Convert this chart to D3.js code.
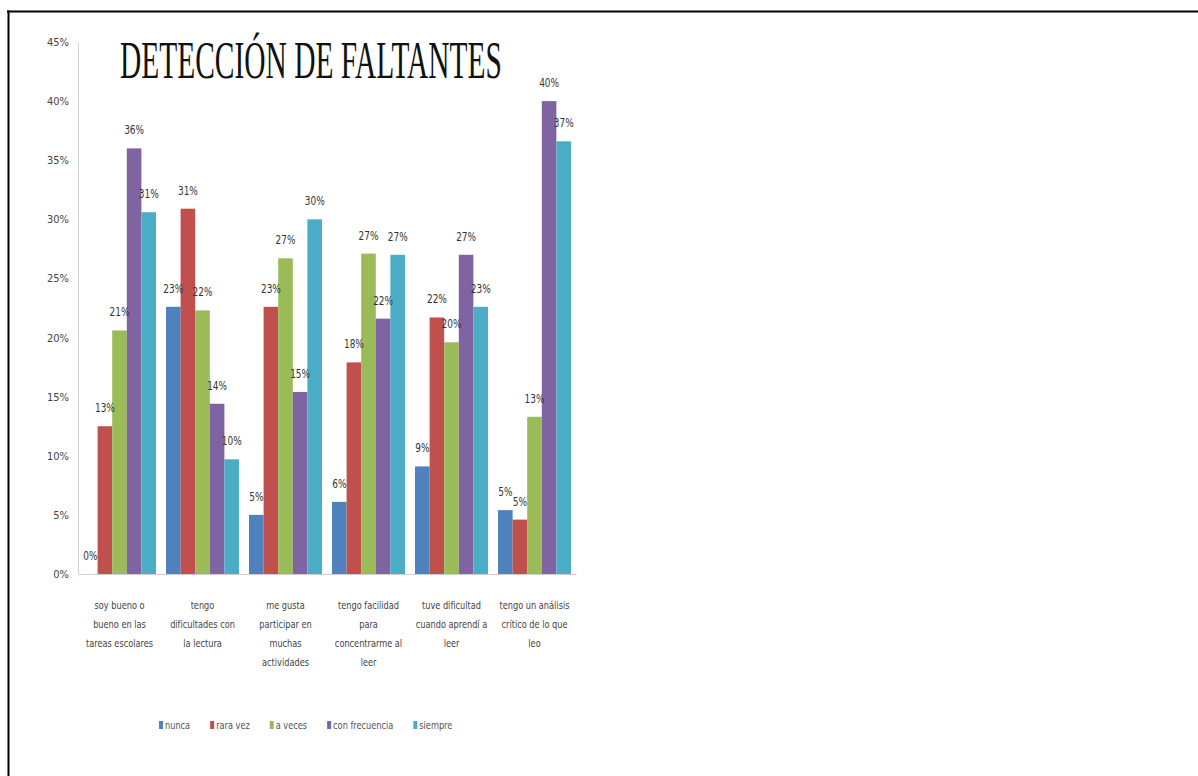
<!DOCTYPE html>
<html lang="es">
<head>
    <meta charset="UTF-8">
    <title>Detección de faltantes</title>
    <style>
        body { margin: 0; background: #fff; }
        svg { display: block; }
        .narrow { font-family: "Liberation Sans Narrow", "DejaVu Sans Condensed", "Liberation Sans", sans-serif; }
    </style>
</head>
<body>
    <div id="chart"></div>

    <script src="https://d3js.org/d3.v7.min.js"></script>
    <script>
        // category labels, already split in lines like the original
        const categories = [
            ["soy bueno o", "bueno en las", "tareas escolares"],
            ["tengo", "dificultades con", "la lectura"],
            ["me gusta", "participar en", "muchas", "actividades"],
            ["tengo facilidad", "para", "concentrarme al", "leer"],
            ["tuve dificultad", "cuando aprendí a", "leer"],
            ["tengo un análisis", "crítico de lo que", "leo"]
        ];

        const seriesNames = ["nunca", "rara vez", "a veces", "con frecuencia", "siempre"];

        // values in percent
        const nunca         = [0,    22.6, 5.0,  6.1,  9.1,  5.4];
        const raraVez       = [12.5, 30.9, 22.6, 17.9, 21.7, 4.6];
        const aVeces        = [20.6, 22.3, 26.7, 27.1, 19.6, 13.3];
        const conFrecuencia = [36.0, 14.4, 15.4, 21.6, 27.0, 40.0];
        const siempre       = [30.6, 9.7,  30.0, 27.0, 22.6, 36.6];

        const yTicks = [0, 5, 10, 15, 20, 25, 30, 35, 40, 45];

        const colors = ["#4F81BD", "#C0504D", "#9BBB59", "#8064A2", "#4BACC6"];

        const series = [nunca, raraVez, aVeces, conFrecuencia, siempre];

        const w = 1198;
        const h = 776;
        const plotLeft = 78, plotRight = 576, plotTop = 42, plotBottom = 574;
        const squeeze = 0.83; // the original text is a condensed font

        const svg = d3.select('#chart')
            .append('svg')
            .attr('width', w)
            .attr('height', h);

        // page frame (top and left border of the document table)
        svg.append('line')
            .attr('x1', 7).attr('x2', w)
            .attr('y1', 11.5).attr('y2', 11.5)
            .attr('stroke', '#000').attr('stroke-width', 2);
        svg.append('line')
            .attr('x1', 8.5).attr('x2', 8.5)
            .attr('y1', 10.5).attr('y2', h)
            .attr('stroke', '#000').attr('stroke-width', 2);

        const x0 = d3.scaleBand()
            .domain(d3.range(categories.length))
            .range([plotLeft, plotRight]);

        const x1 = d3.scaleBand()
            .domain(d3.range(seriesNames.length))
            .range([5, x0.bandwidth() - 5]);

        const y = d3.scaleLinear()
            .domain([0, 45])
            .range([plotBottom, plotTop]);

        // y axis
        const yAxis = d3.axisLeft(y)
            .tickValues(yTicks)
            .tickSize(0)
            .tickPadding(9)
            .tickFormat(d => d + '%');

        const gy = svg.append('g')
            .attr('transform', `translate(${plotLeft},0)`)
            .call(yAxis);
        gy.select('.domain').attr('stroke', '#d0d0d0');
        gy.selectAll('text')
            .attr('class', 'narrow')
            .style('font-size', '11px')
            .attr('fill', '#444');

        // bars
        const groups = svg.selectAll('g.group')
            .data(categories)
            .enter()
            .append('g')
            .attr('class', 'group')
            .attr('transform', (d, i) => `translate(${x0(i)},0)`);

        groups.selectAll('rect')
            .data((d, i) => series.map((s, k) => ({ k: k, v: s[i] })))
            .enter()
            .append('rect')
            .attr('x', d => x1(d.k))
            .attr('width', x1.bandwidth())
            .attr('y', d => y(d.v))
            .attr('height', d => plotBottom - y(d.v))
            .attr('fill', d => colors[d.k]);

        groups.selectAll('text.val')
            .data((d, i) => series.map((s, k) => ({ k: k, v: s[i] })))
            .enter()
            .append('text')
            .attr('class', 'val narrow')
            .attr('transform', d => `translate(${x1(d.k) + x1.bandwidth() / 2},${y(d.v) - 14}) scale(${squeeze},1)`)
            .attr('text-anchor', 'middle')
            .style('font-size', '12px')
            .attr('fill', '#333')
            .text(d => Math.round(d.v) + '%');

        // x axis with multi line labels
        const xAxis = d3.axisBottom(x0)
            .tickSize(0)
            .tickPadding(0)
            .tickFormat('');

        const gx = svg.append('g')
            .attr('transform', `translate(0,${plotBottom})`)
            .call(xAxis);
        gx.select('.domain').attr('stroke', '#d0d0d0');
        gx.selectAll('.tick text')
            .attr('class', 'narrow')
            .style('font-size', '11px')
            .attr('fill', '#444')
            .attr('dy', null)
            .attr('transform', `scale(${squeeze},1)`)
            .each(function (d) {
                const t = d3.select(this);
                categories[d].forEach((line, j) => {
                    t.append('tspan')
                        .attr('x', 0)
                        .attr('y', 35 + j * 19)
                        .text(line);
                });
            });

        // title, squeezed horizontally to the width it has in the original
        const title = svg.append('text')
            .style('font-family', '"Liberation Serif", "Times New Roman", serif')
            .style('font-size', '52px')
            .attr('fill', '#111')
            .text('DETECCIÓN DE FALTANTES');
        const titleScale = 382 / title.node().getComputedTextLength();
        title.attr('transform', `translate(120,78) scale(${titleScale},1)`);

        // legend
        const legend = svg.append('g')
            .attr('class', 'legend')
            .attr('transform', 'translate(159,725)');
        let lx = 0;
        seriesNames.forEach((name, k) => {
            legend.append('rect')
                .attr('x', lx)
                .attr('y', -4)
                .attr('width', 4)
                .attr('height', 8)
                .attr('fill', colors[k]);
            const t = legend.append('text')
                .attr('class', 'narrow')
                .attr('transform', `translate(${lx + 6},4) scale(${squeeze},1)`)
                .style('font-size', '11px')
                .attr('fill', '#555')
                .text(name);
            lx += 6 + t.node().getComputedTextLength() * squeeze + 20;
        });
    </script>
</body>
</html>
